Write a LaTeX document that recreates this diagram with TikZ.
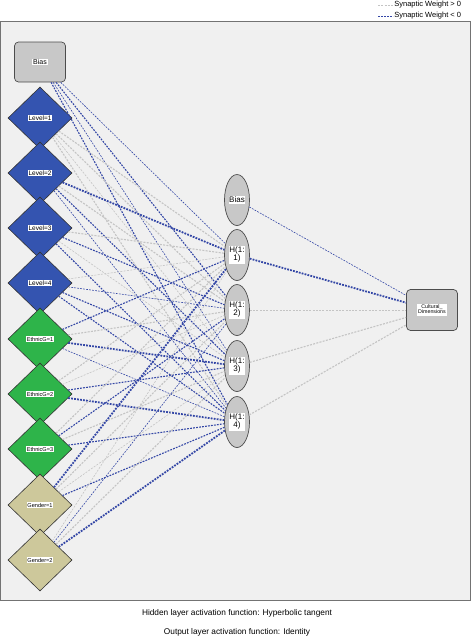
\documentclass[tikz,border=0pt]{standalone}
\usepackage{fontspec}
\setmainfont{Liberation Sans}
\usepackage{xcolor}
\definecolor{panel}{HTML}{F0F0F0}
\definecolor{nodegray}{HTML}{C8C8C8}
\definecolor{lvlblue}{HTML}{3454B0}
\definecolor{ethgreen}{HTML}{2EB44A}
\definecolor{genkhaki}{HTML}{CDC89B}
\definecolor{negblue}{HTML}{3346A6}
\definecolor{posgray}{HTML}{C4C4C4}
\usepackage{tikz}
\usetikzlibrary{positioning,shapes.geometric,calc}
\setlength{\fboxsep}{0.7pt}
\newcommand{\lbl}[1]{\colorbox{white}{#1}}
\newcommand{\lbltwo}[2]{\colorbox{white}{\renewcommand{\arraystretch}{0.8}\begin{tabular}{@{}c@{}}#1\\#2\end{tabular}}}

\tikzset{
	inbox/.style={rectangle,rounded corners=4pt,draw=black!70,fill=nodegray,line width=0.7pt,minimum width=51pt,minimum height=40pt,inner sep=0pt,font=\fontsize{7}{8}\selectfont},
	lvl/.style={diamond,draw=black!80,fill=lvlblue,line width=0.6pt,minimum width=64pt,minimum height=62pt,inner sep=0pt,font=\fontsize{6.5}{7}\selectfont},
	eth/.style={lvl,fill=ethgreen,font=\fontsize{5.6}{6}\selectfont},
	gen/.style={lvl,fill=genkhaki,font=\fontsize{5.6}{6}\selectfont},
	hid/.style={ellipse,draw=black!70,fill=nodegray,line width=0.7pt,minimum width=25pt,minimum height=51pt,inner sep=0pt,font=\fontsize{8}{8.5}\selectfont},
	outbox/.style={inbox,minimum height=41pt,font=\fontsize{5.3}{5.8}\selectfont},
	wneg/.style={negblue,dash pattern=on 1.8pt off 1.2pt},
	wpos/.style={posgray,dash pattern=on 2pt off 1.3pt},
	w1/.style={line width=0.6pt},
	w2/.style={line width=1.1pt},
	w3/.style={line width=1.8pt},
	legtext/.style={right=0pt,inner sep=1pt,text=black,font=\fontsize{7.5}{8}\selectfont}
}

\begin{document}
\begin{tikzpicture}[x=1pt,y=-1pt]
	\useasboundingbox (0,0) rectangle (474,641);
	% draw panel
	\fill[white] (0,0) rectangle (474,641);
	\draw[fill=panel,draw=black!55,line width=0.8pt] (0.5,21) rectangle (470,600);
	
	% draw legend
	\coordinate (lp1) at (378,5);
	\coordinate (lp2) at (393,5);
	\coordinate (ln1) at (378,16);
	\coordinate (ln2) at (393,16);
	\draw[wpos,line width=0.7pt] (lp1) -- (lp2) node[legtext] (legpos) {Synaptic Weight > 0};
	\draw[wneg,line width=0.7pt] (ln1) -- (ln2) node[legtext] (legneg) {Synaptic Weight < 0};
	
	% draw input layer
	\node[inbox] (bias) at (40,62) {\lbl{Bias}};
	\node[lvl] (lev1) at (40,118) {\lbl{Level=1}};
	\node[lvl] (lev2) at (40,173) {\lbl{Level=2}};
	\node[lvl] (lev3) at (40,228) {\lbl{Level=3}};
	\node[lvl] (lev4) at (40,283) {\lbl{Level=4}};
	\node[eth] (eth1) at (40,339) {\lbl{EthnicG=1}};
	\node[eth] (eth2) at (40,394) {\lbl{EthnicG=2}};
	\node[eth] (eth3) at (40,449) {\lbl{EthnicG=3}};
	\node[gen] (gen1) at (40,505) {\lbl{Gender=1}};
	\node[gen] (gen2) at (40,560) {\lbl{Gender=2}};
	
	% draw hidden layer
	\node[hid] (hbias) at (237,200) {\lbl{Bias}};
	\node[hid] (hid1) at (237,255) {\lbltwo{H(1:}{1)}};
	\node[hid] (hid2) at (237,310) {\lbltwo{H(1:}{2)}};
	\node[hid] (hid3) at (237,366) {\lbltwo{H(1:}{3)}};
	\node[hid] (hid4) at (237,422) {\lbltwo{H(1:}{4)}};
	
	% draw output layer
	\node[outbox] (out) at (432,310) {\lbltwo{Cultural\_}{Dimensions}};
	
	%%% synapses input -> hidden
	\draw[wneg,w1] (bias) -- (hid1);
	\draw[wneg,w2] (bias) -- (hid2);
	\draw[wneg,w1] (bias) -- (hid3);
	\draw[wneg,w2] (bias) -- (hid4);
	
	\draw[wpos,w2] (lev1) -- (hid1);
	\draw[wpos,w2] (lev1) -- (hid2);
	\draw[wpos,w1] (lev1) -- (hid3);
	\draw[wpos,w2] (lev1) -- (hid4);
	
	\draw[wneg,w3] (lev2) -- (hid1);
	\draw[wpos,w2] (lev2) -- (hid2);
	\draw[wneg,w2] (lev2) -- (hid3);
	\draw[wneg,w1] (lev2) -- (hid4);
	
	\draw[wpos,w2] (lev3) -- (hid1);
	\draw[wneg,w2] (lev3) -- (hid2);
	\draw[wpos,w1] (lev3) -- (hid3);
	\draw[wneg,w2] (lev3) -- (hid4);
	
	\draw[wpos,w1] (lev4) -- (hid1);
	\draw[wneg,w1] (lev4) -- (hid2);
	\draw[wneg,w2] (lev4) -- (hid3);
	\draw[wneg,w2] (lev4) -- (hid4);
	
	\draw[wneg,w2] (eth1) -- (hid1);
	\draw[wpos,w2] (eth1) -- (hid2);
	\draw[wneg,w3] (eth1) -- (hid3);
	\draw[wneg,w1] (eth1) -- (hid4);
	
	\draw[wpos,w2] (eth2) -- (hid1);
	\draw[wpos,w1] (eth2) -- (hid2);
	\draw[wneg,w2] (eth2) -- (hid3);
	\draw[wneg,w3] (eth2) -- (hid4);
	
	\draw[wpos,w2] (eth3) -- (hid1);
	\draw[wneg,w2] (eth3) -- (hid2);
	\draw[wpos,w2] (eth3) -- (hid3);
	\draw[wneg,w2] (eth3) -- (hid4);
	
	\draw[wneg,w3] (gen1) -- (hid1);
	\draw[wpos,w2] (gen1) -- (hid2);
	\draw[wpos,w1] (gen1) -- (hid3);
	\draw[wneg,w2] (gen1) -- (hid4);
	
	\draw[wpos,w1] (gen2) -- (hid1);
	\draw[wneg,w1] (gen2) -- (hid2);
	\draw[wpos,w2] (gen2) -- (hid3);
	\draw[wneg,w3] (gen2) -- (hid4);
	
	%%% synapses hidden -> output
	\draw[wneg,w1] (hbias) -- (out);
	\draw[wneg,w3] (hid1) -- (out);
	\draw[wpos,w1] (hid2) -- (out);
	\draw[wpos,w2] (hid3) -- (out);
	\draw[wpos,w2] (hid4) -- (out);
	
	% captions
	\node[font=\fontsize{8.3}{9}\selectfont] (caphid) at (237,613) {Hidden layer activation function: Hyperbolic tangent};
	\node[font=\fontsize{8.3}{9}\selectfont] (capout) at (237,632) {Output layer activation function: Identity};
\end{tikzpicture}
\end{document}
